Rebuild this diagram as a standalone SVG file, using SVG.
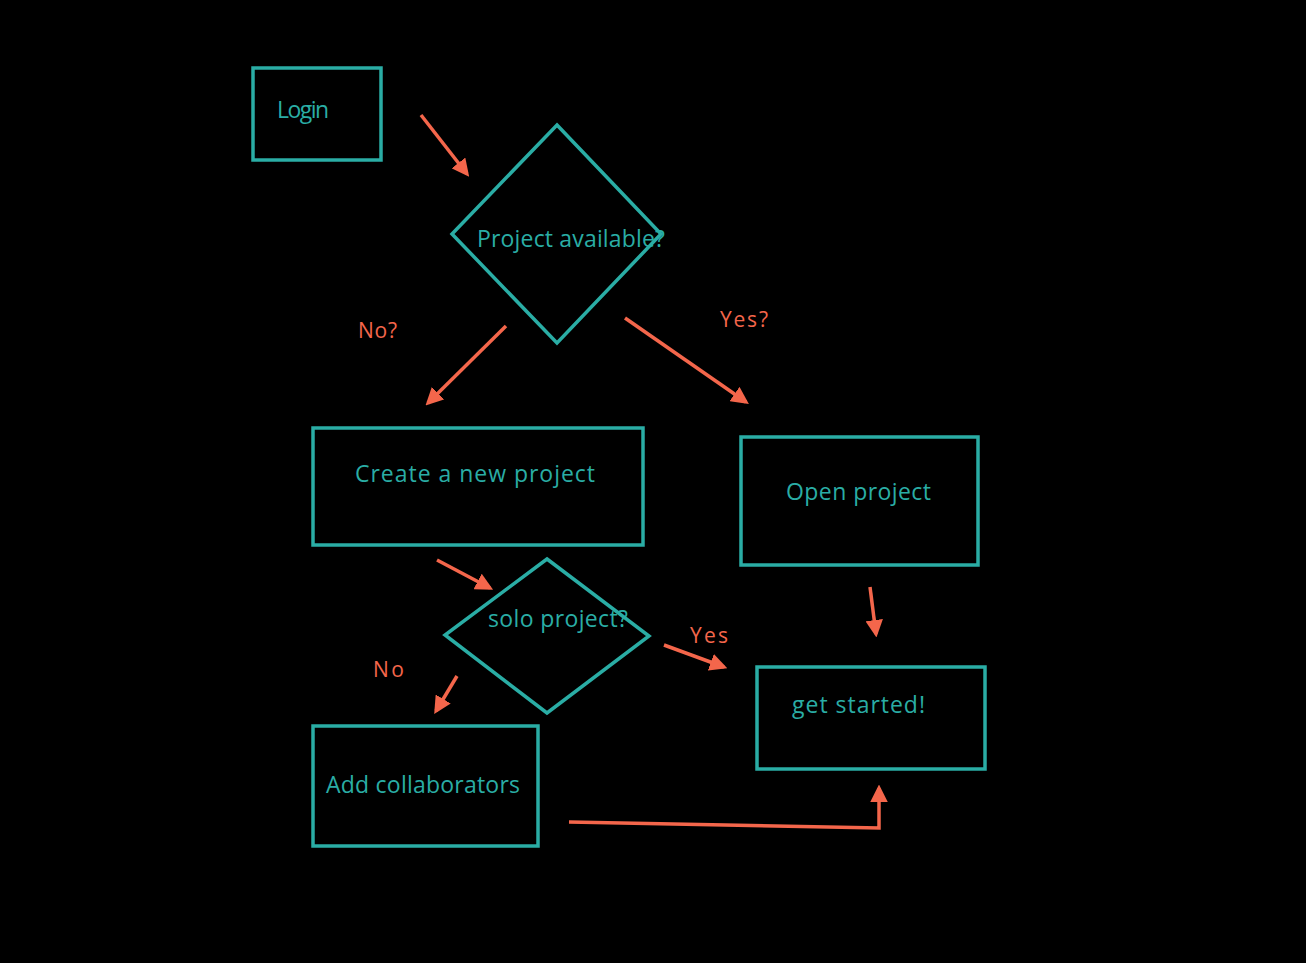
<svg xmlns="http://www.w3.org/2000/svg" width="1306" height="963" viewBox="0 0 1306 963">
<style>
.node{fill:none;stroke:#2aada5;stroke-width:3.5}
.lbl{fill:#2aada5;font-family:"Open Sans","Liberation Sans",sans-serif;font-size:23px}
.edge{fill:none;stroke:#f4664b;stroke-width:3.5}
.elbl{fill:#f4664b;font-family:"Open Sans","Liberation Sans",sans-serif;font-size:21px}
</style>
<defs>
<marker id="ah" viewBox="0 0 10 10" refX="8" refY="5" markerWidth="5" markerHeight="5" markerUnits="strokeWidth" orient="auto">
<path d="M0,0 L10,5 L0,10 z" fill="#f4664b"/>
</marker>
</defs>
<rect width="1306" height="963" fill="#000"/>
<g id="login"><rect class="node" x="253" y="68" width="128" height="92"/><text class="lbl" x="277" y="118" textLength="52">Login</text></g>
<g id="project-available"><polygon class="node" points="557,125 661,234 557,343 452,234"/><text class="lbl" x="477" y="247" textLength="188">Project available?</text></g>
<g id="create-project"><rect class="node" x="313" y="428" width="330" height="117"/><text class="lbl" x="355" y="482" textLength="240">Create a new project</text></g>
<g id="open-project"><rect class="node" x="741" y="437" width="237" height="128"/><text class="lbl" x="786" y="500" textLength="145">Open project</text></g>
<g id="solo-project"><polygon class="node" points="547,559 649,636 547,713 445,635"/><text class="lbl" x="488" y="627" textLength="140">solo project?</text></g>
<g id="get-started"><rect class="node" x="757" y="667" width="228" height="102"/><text class="lbl" x="792" y="713" textLength="133">get started!</text></g>
<g id="add-collaborators"><rect class="node" x="313" y="726" width="225" height="120"/><text class="lbl" x="326" y="793" textLength="194">Add collaborators</text></g>
<g id="connectors">
<line class="edge" x1="421" y1="115" x2="467" y2="174" marker-end="url(#ah)"/>
<line class="edge" x1="506" y1="326" x2="428" y2="403" marker-end="url(#ah)"/>
<text class="elbl" x="358" y="338" textLength="39">No?</text>
<line class="edge" x1="625" y1="318" x2="746" y2="402" marker-end="url(#ah)"/>
<text class="elbl" x="720" y="327" textLength="48">Yes?</text>
<line class="edge" x1="437" y1="560" x2="490" y2="588" marker-end="url(#ah)"/>
<line class="edge" x1="457" y1="676" x2="436" y2="711" marker-end="url(#ah)"/>
<text class="elbl" x="373" y="677" textLength="31">No</text>
<line class="edge" x1="664" y1="645" x2="724" y2="667" marker-end="url(#ah)"/>
<text class="elbl" x="690" y="643" textLength="38">Yes</text>
<line class="edge" x1="870" y1="587" x2="876" y2="634" marker-end="url(#ah)"/>
<polyline class="edge" points="569,822 879,828 879,788" marker-end="url(#ah)"/>
</g>
</svg>
